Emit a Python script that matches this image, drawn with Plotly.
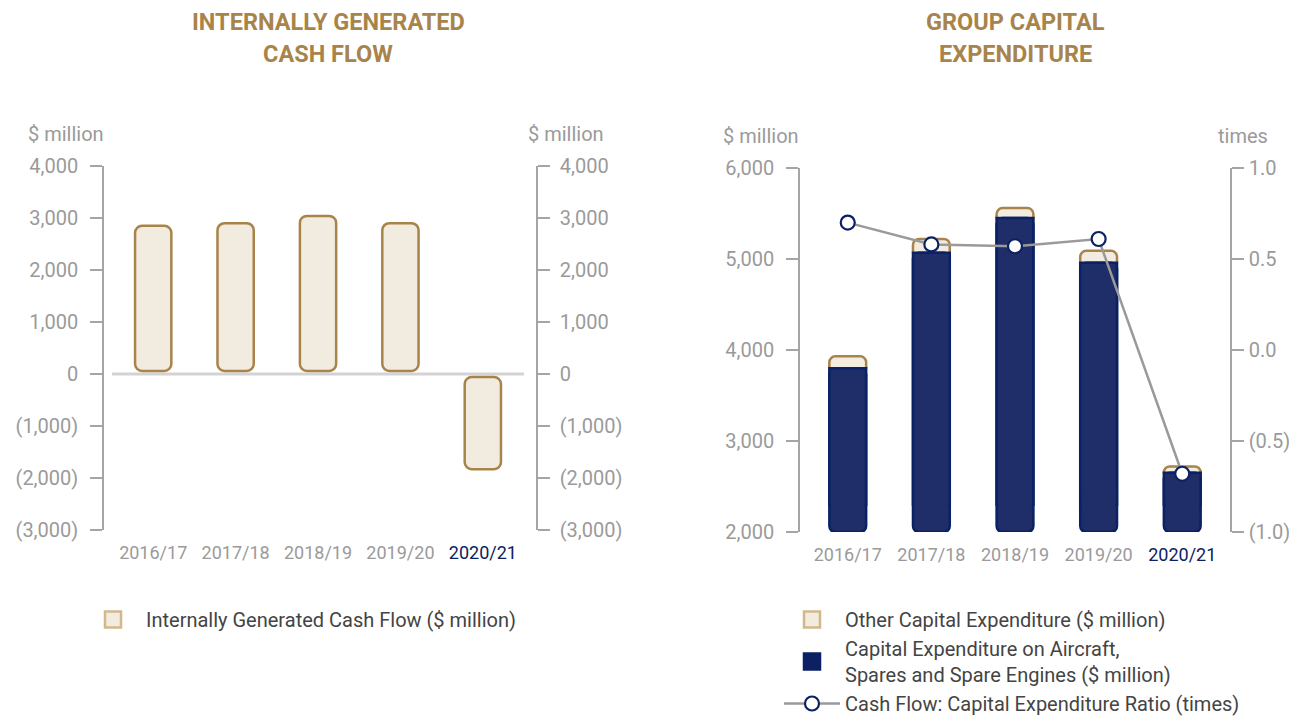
import plotly.graph_objects as go

# ---------------- data ----------------
years = ["2016/17", "2017/18", "2018/19", "2019/20", "2020/21"]
cash_flow = [2850, 2900, 3040, 2900, -1830]          # Internally generated cash flow ($m)
capex_total = [3930, 5220, 5560, 5090, 2720]         # Group capital expenditure ($m)
capex_aircraft = [3800, 5070, 5450, 4960, 2650]      # Aircraft, spares & spare engines ($m)
capex_ratio = [0.70, 0.58, 0.57, 0.61, -0.68]        # Cash flow : capex ratio (times)
left_ticks = [-3000, -2000, -1000, 0, 1000, 2000, 3000, 4000]
right_ticks = [2000, 3000, 4000, 5000, 6000]
ratio_ticks = [-1.0, -0.5, 0.0, 0.5, 1.0]

capex_other = [t - a for t, a in zip(capex_total, capex_aircraft)]

# ---------------- styles ----------------
FONT = "Roboto"
GOLD = "#A8844A"
BEIGE = "#F2EBE0"
NAVY_FILL = "#1F2E69"
NAVY_LINE = "#0B2163"
GREY = "#9A9A9A"
TXT = "#444444"
BAR_W = 0.44
PAGE_OFF = 8                     # default page body margin
W, H = 1297 - PAGE_OFF, 719 - PAGE_OFF
GAP = 60          # small visual gap between bars and zero line (axis units)
FLOOR = right_ticks[0]
SEAM = 300        # height of the rounded-bottom segment of navy bars (axis units)


def fmt_num(v):
    s = f"{abs(v):,.0f}"
    return f"({s})" if v < 0 else s


def fmt_ratio(v):
    s = f"{abs(v):.1f}"
    return f"({s})" if v < 0 else s


year_text = [y if i < len(years) - 1 else f'<span style="color:{NAVY_LINE}">{y}</span>'
             for i, y in enumerate(years)]

fig = go.Figure()

# ----- left chart -----
sgn = [1 if v >= 0 else -1 for v in cash_flow]
fig.add_trace(go.Bar(
    x=years, y=[v - s * GAP for v, s in zip(cash_flow, sgn)], base=[s * GAP for s in sgn],
    width=BAR_W,
    marker=dict(color=BEIGE, line=dict(color=GOLD, width=2.5), cornerradius=7),
    showlegend=False,
    customdata=cash_flow, hovertemplate="%{x}: %{customdata:,}<extra></extra>",
    xaxis="x", yaxis="y"))
fig.add_trace(go.Scatter(
    x=years, y=cash_flow, mode="markers", marker=dict(opacity=0),
    showlegend=False, hoverinfo="skip", xaxis="x", yaxis="y2"))
fig.add_trace(go.Scatter(
    x=[None], y=[None], mode="markers",
    marker=dict(symbol="square", size=16, color=BEIGE, line=dict(color="#D2B98C", width=2.5)),
    name="Internally Generated Cash Flow ($ million)", legend="legend",
    xaxis="x", yaxis="y"))

# ----- right chart -----
fig.add_trace(go.Bar(
    x=years, y=[o + SEAM / 5 for o in capex_other], base=[a - SEAM / 5 for a in capex_aircraft],
    width=BAR_W,
    marker=dict(color=BEIGE, line=dict(color=GOLD, width=2.5), cornerradius=6),
    showlegend=False,
    customdata=capex_other, hovertemplate="%{x}: %{customdata:,}<extra></extra>",
    xaxis="x2", yaxis="y3"))
fig.add_trace(go.Bar(
    x=years, y=[a - FLOOR for a in capex_aircraft], base=[FLOOR] * len(years), width=BAR_W,
    marker=dict(color=NAVY_FILL, line=dict(color=NAVY_LINE, width=2.5), cornerradius=6),
    showlegend=False,
    customdata=capex_aircraft, hovertemplate="%{x}: %{customdata:,}<extra></extra>",
    xaxis="x2", yaxis="y3"))
fig.add_trace(go.Bar(
    x=years, y=[a - FLOOR - SEAM for a in capex_aircraft], base=[FLOOR + SEAM] * len(years),
    width=BAR_W,
    marker=dict(color=NAVY_FILL, line=dict(color=NAVY_LINE, width=2.5), cornerradius=0),
    showlegend=False, hoverinfo="skip", xaxis="x2", yaxis="y3"))
fig.add_trace(go.Bar(
    x=years, y=[SEAM] * len(years), base=[FLOOR + SEAM / 2] * len(years),
    width=BAR_W - 3.4 / 84,
    marker=dict(color=NAVY_FILL, line=dict(width=0), cornerradius=0),
    showlegend=False, hoverinfo="skip", xaxis="x2", yaxis="y3"))
fig.add_trace(go.Scatter(
    x=[None], y=[None], mode="markers",
    marker=dict(symbol="square", size=16, color=BEIGE, line=dict(color="#D2B98C", width=2.5)),
    name="Other Capital Expenditure ($ million)", legend="legend2",
    xaxis="x2", yaxis="y3"))
fig.add_trace(go.Scatter(
    x=[None], y=[None], mode="markers",
    marker=dict(symbol="square", size=16, color=NAVY_LINE, line=dict(color=NAVY_LINE, width=2.5)),
    name="Capital Expenditure on Aircraft,<br>Spares and Spare Engines ($ million)",
    legend="legend2", xaxis="x2", yaxis="y3"))
fig.add_trace(go.Scatter(
    x=years, y=capex_ratio, mode="lines+markers",
    line=dict(color=GREY, width=2.5),
    marker=dict(size=14, color="white", line=dict(color=NAVY_LINE, width=2.2)),
    name="Cash Flow: Capital Expenditure Ratio (times)", legend="legend2",
    xaxis="x2", yaxis="y4"))

# ---------------- layout ----------------
def px_x(p):
    return (p - PAGE_OFF) / W


def px_y(p):
    return (H - (p - PAGE_OFF)) / H


L_DOM = [px_x(104), px_x(536)]
R_DOM = [px_x(800), px_x(1230)]
L_Y = [px_y(530), px_y(166)]
R_Y = [px_y(532), px_y(168)]

yax_common = dict(
    showgrid=False, zeroline=False, showline=True, linecolor="#A5A5A5", linewidth=1.5,
    ticks="outside", ticklen=12, tickcolor="#A5A5A5", tickwidth=1.5,
    tickfont=dict(family=FONT, size=20, color=GREY),
)
xax_common = dict(
    showgrid=False, zeroline=False, showline=False, ticks="",
    tickfont=dict(family=FONT, size=18, color=GREY), ticklabelstandoff=10,
    tickmode="array", tickvals=years, ticktext=year_text,
)
legend_font = dict(family=FONT, size=20, color=TXT)

fig.update_layout(
    width=W, height=H, margin=dict(l=0, r=0, t=0, b=0, autoexpand=False),
    paper_bgcolor="white", plot_bgcolor="white",
    barmode="overlay", showlegend=True,
    font=dict(family=FONT, color=TXT),
    xaxis=dict(domain=L_DOM, anchor="y", range=[-0.597, 4.645], **xax_common),
    yaxis=dict(domain=L_Y, anchor="x", range=[left_ticks[0], left_ticks[-1]],
               tickvals=left_ticks, ticktext=[fmt_num(v) for v in left_ticks],
               ticklabelstandoff=8, **yax_common),
    yaxis2=dict(overlaying="y", anchor="x", side="right", range=[left_ticks[0], left_ticks[-1]],
                tickvals=left_ticks, ticktext=[fmt_num(v) for v in left_ticks],
                ticklabelstandoff=6, **yax_common),
    xaxis2=dict(domain=R_DOM, anchor="y3", range=[-0.571, 4.571], **xax_common),
    yaxis3=dict(domain=R_Y, anchor="x2", range=[right_ticks[0], right_ticks[-1]],
                tickvals=right_ticks, ticktext=[fmt_num(v) for v in right_ticks],
                ticklabelstandoff=8, **yax_common),
    yaxis4=dict(overlaying="y3", anchor="x2", side="right", range=[ratio_ticks[0], ratio_ticks[-1]],
                tickvals=ratio_ticks, ticktext=[fmt_ratio(v) for v in ratio_ticks],
                ticklabelstandoff=1, **yax_common),
    legend=dict(x=px_x(80), y=px_y(600), xanchor="left", yanchor="top", itemwidth=56,
                font=legend_font, bgcolor="rgba(0,0,0,0)"),
    legend2=dict(x=px_x(779), y=px_y(600), xanchor="left", yanchor="top", itemwidth=56,
                 traceorder="normal", tracegroupgap=6,
                 font=legend_font, bgcolor="rgba(0,0,0,0)"),
)

# zero line on left chart
fig.add_shape(type="line", xref="x", yref="y", x0=-0.5, x1=4.5, y0=0, y1=0,
              line=dict(color="#D3D3D3", width=3), layer="below")


# titles & axis units
def ann(text, x, y, size, color, bold=False, xanchor="center"):
    fig.add_annotation(text=f"<b>{text}</b>" if bold else text, x=px_x(x), y=px_y(y),
                       xref="paper", yref="paper", xanchor=xanchor, yanchor="middle",
                       showarrow=False, font=dict(family=FONT, size=size, color=color))


ann("INTERNALLY GENERATED", 328, 22, 23.5, GOLD, bold=True)
ann("CASH FLOW", 328, 54, 23.5, GOLD, bold=True)
ann("GROUP CAPITAL", 1016, 22, 23.5, GOLD, bold=True)
ann("EXPENDITURE", 1016, 54, 23.5, GOLD, bold=True)
ann("$ million", 26, 134, 20, GREY, xanchor="left")
ann("$ million", 526, 134, 20, GREY, xanchor="left")
ann("$ million", 721, 136, 20, GREY, xanchor="left")
ann("times", 1216, 136, 20, GREY, xanchor="left")

fig.write_html("out.html")
